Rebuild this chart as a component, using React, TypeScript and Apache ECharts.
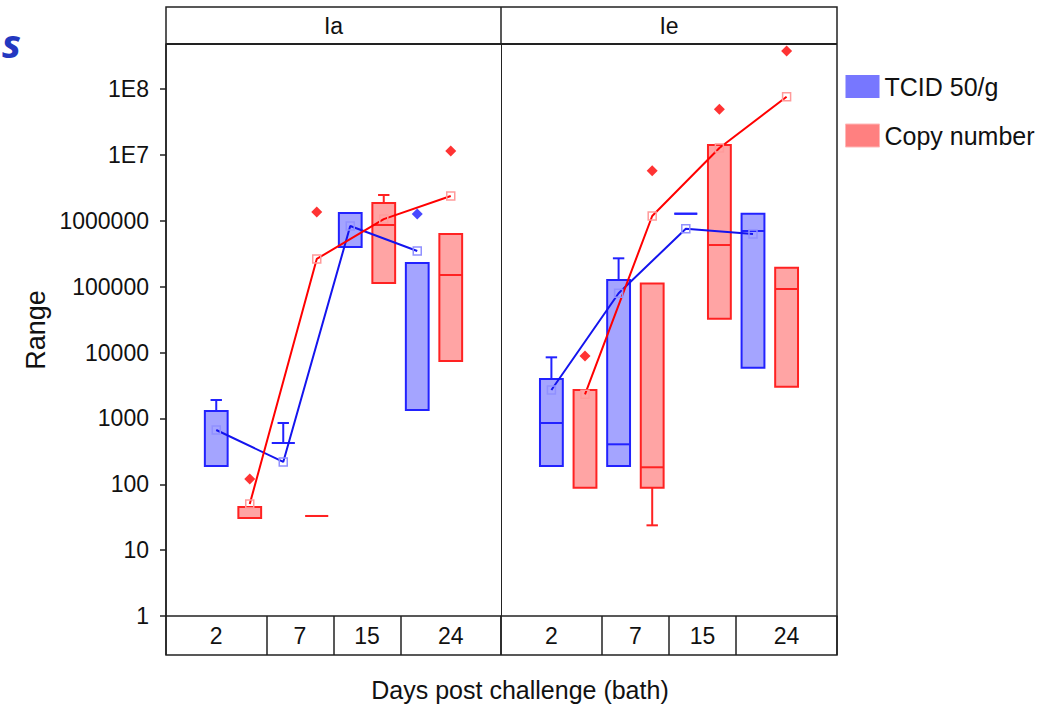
import React, { useEffect, useRef } from "react";
import * as echarts from "echarts";

// ---------- data ----------
const panels = ["Ia", "Ie"];
const days = ["2", "7", "15", "24"];
const groupNames = ["TCID 50/g", "Copy number"];
const yTickLabels = ["1", "10", "100", "1000", "10000", "100000", "1000000", "1E7", "1E8"];

// Ia – TCID 50/g
const iaTcidQ1 = [189, 423, 400000, 1340];
const iaTcidMedian = [null, 423, null, null];
const iaTcidQ3 = [1294, 423, 1310000, 228000];
const iaTcidLow = [null, null, null, null];
const iaTcidHigh = [1900, 851, null, null];
const iaTcidMean = [666, 218, 832000, 347000];
const iaTcidOutlier = [null, null, null, 1270000];

// Ia – Copy number
const iaCopyQ1 = [30.7, 33, 114000, 7430];
const iaCopyMedian = [null, 33, 862000, 150000];
const iaCopyQ3 = [45.1, 33, 1860000, 629000];
const iaCopyLow = [null, null, null, null];
const iaCopyHigh = [null, null, 2460000, null];
const iaCopyMean = [50.1, 263000, 1060000, 2380000];
const iaCopyOutlier = [120, 1360000, null, 11500000];

// Ie – TCID 50/g
const ieTcidQ1 = [189, 189, 1280000, 5880];
const ieTcidMedian = [851, 404, 1280000, 699000];
const ieTcidQ3 = [3960, 126000, 1280000, 1280000];
const ieTcidLow = [null, null, null, null];
const ieTcidHigh = [8450, 269000, null, null];
const ieTcidMean = [2700, 79200, 757000, 629000];
const ieTcidOutlier = [null, null, null, null];

// Ie – Copy number
const ieCopyQ1 = [88.7, 88.7, 32600, 3030];
const ieCopyMedian = [null, 181, 428000, 92000];
const ieCopyQ3 = [2700, 112000, 14100000, 194000];
const ieCopyLow = [null, 23.8, null, null];
const ieCopyHigh = [null, null, null, null];
const ieCopyMean = [2320, 1180000, 12700000, 76400000];
const ieCopyOutlier = [8850, 5750000, 49200000, 378000000];

// ---------- layout / style ----------
const FONT = "Liberation Sans, Arial, sans-serif";
const PLOT_LEFT = 166;
const PLOT_MID = 501;
const PLOT_RIGHT = 837;
const HEAD_TOP = 7;
const PLOT_TOP = 44;
const PLOT_BOTTOM = 616;
const STRIP_BOTTOM = 655;
const PX_PER_DECADE = 65.875;
const Y_MAX_EXP = (PLOT_BOTTOM - PLOT_TOP) / PX_PER_DECADE;
const BOX_HALF = 0.34;

const STYLES = [
  { fill: "#a4a4ff", stroke: "#2222ff", line: "#1414ee", marker: "#9090ff", dot: "#1a1aff" },
  { fill: "#ffa4a4", stroke: "#ff2222", line: "#ff0000", marker: "#ff9a9a", dot: "#ff0000" },
];

const panelData = [
  [
    { q1: iaTcidQ1, med: iaTcidMedian, q3: iaTcidQ3, lo: iaTcidLow, hi: iaTcidHigh, mean: iaTcidMean, out: iaTcidOutlier },
    { q1: iaCopyQ1, med: iaCopyMedian, q3: iaCopyQ3, lo: iaCopyLow, hi: iaCopyHigh, mean: iaCopyMean, out: iaCopyOutlier },
  ],
  [
    { q1: ieTcidQ1, med: ieTcidMedian, q3: ieTcidQ3, lo: ieTcidLow, hi: ieTcidHigh, mean: ieTcidMean, out: ieTcidOutlier },
    { q1: ieCopyQ1, med: ieCopyMedian, q3: ieCopyQ3, lo: ieCopyLow, hi: ieCopyHigh, mean: ieCopyMean, out: ieCopyOutlier },
  ],
];

const slotOf = (dayIdx: number, groupIdx: number) => dayIdx * 2 + groupIdx;
const cellCenters = [0, 2.5, 4.5, 7];
const cellEdges = [-1.5, 1.5, 3.5, 5.5, 8.5];

function makeRenderItem(st: any) {
  return (params: any, api: any) => {
    const slot = api.value(0);
    const q1 = api.value(1);
    const med = api.value(2);
    const q3 = api.value(3);
    const lo = api.value(4);
    const hi = api.value(5);
    const tl = api.coord([slot - BOX_HALF, q3]);
    const br = api.coord([slot + BOX_HALF, q1]);
    const cx = api.coord([slot, q1])[0];
    const bw = br[0] - tl[0];
    const cap = bw * 0.25;
    const ls = { stroke: st.stroke, lineWidth: 2 };
    const children: any[] = [];
    if (!isNaN(hi)) {
      const yh = api.coord([slot, hi])[1];
      children.push({ type: "line", shape: { x1: cx, y1: tl[1], x2: cx, y2: yh }, style: ls });
      children.push({ type: "line", shape: { x1: cx - cap, y1: yh, x2: cx + cap, y2: yh }, style: ls });
    }
    if (!isNaN(lo)) {
      const yl = api.coord([slot, lo])[1];
      children.push({ type: "line", shape: { x1: cx, y1: br[1], x2: cx, y2: yl }, style: ls });
      children.push({ type: "line", shape: { x1: cx - cap, y1: yl, x2: cx + cap, y2: yl }, style: ls });
    }
    children.push({
      type: "rect",
      shape: { x: tl[0], y: tl[1], width: bw, height: br[1] - tl[1] },
      style: { fill: st.fill, stroke: st.stroke, lineWidth: 2 },
    });
    if (!isNaN(med)) {
      const ym = api.coord([slot, med])[1];
      children.push({ type: "line", shape: { x1: tl[0], y1: ym, x2: br[0], y2: ym }, style: ls });
    }
    return { type: "group", children };
  };
}

function buildOption() {
  const series: any[] = [];
  panels.forEach((_, p) => {
    groupNames.forEach((gName, g) => {
      const d = panelData[p][g];
      const st = STYLES[g];
      series.push({
        type: "custom",
        name: gName,
        xAxisIndex: p,
        yAxisIndex: p,
        renderItem: makeRenderItem(st),
        encode: { x: 0, y: [1, 2, 3, 4, 5] },
        data: days.map((_, i) => [slotOf(i, g), d.q1[i], d.med[i], d.q3[i], d.lo[i], d.hi[i]]),
        z: 2,
      });
      series.push({
        type: "line",
        name: gName + " mean",
        xAxisIndex: p,
        yAxisIndex: p,
        data: days.map((_, i) => [slotOf(i, g), d.mean[i]]),
        lineStyle: { color: st.line, width: 2 },
        symbol: "rect",
        symbolSize: 8,
        itemStyle: { color: "rgba(255,255,255,0)", borderColor: st.marker, borderWidth: 1.5 },
        z: 4,
      });
      const outs = days
        .map((_, i) => (d.out[i] == null ? null : [slotOf(i, g), d.out[i]]))
        .filter((v) => v !== null);
      series.push({
        type: "scatter",
        name: gName + " outlier",
        xAxisIndex: p,
        yAxisIndex: p,
        data: outs,
        symbol: "diamond",
        symbolSize: 11,
        itemStyle: { color: st.dot },
        z: 5,
      });
    });
  });

  const xAxisFor = (p: number) => ({
    type: "value",
    gridIndex: p,
    min: -1.5,
    max: 8.5,
    axisLine: { show: true, onZero: false, lineStyle: { color: "#222", width: 1.5 } },
    axisTick: { show: true, customValues: cellEdges, length: STRIP_BOTTOM - PLOT_BOTTOM, lineStyle: { color: "#222", width: 1.5 } },
    axisLabel: {
      show: true,
      customValues: cellCenters,
      formatter: (v: number) => {
        const idx = cellCenters.findIndex((c) => Math.abs(c - v) < 1e-6);
        return idx >= 0 ? days[idx] : "";
      },
      fontSize: 23,
      color: "#111",
      fontFamily: FONT,
      margin: 8,
    },
    splitLine: { show: false },
  });

  const yAxisFor = (p: number) => ({
    type: "log",
    logBase: 10,
    gridIndex: p,
    min: 1,
    max: Math.pow(10, Y_MAX_EXP),
    axisLine: { show: true, onZero: false, lineStyle: { color: "#222", width: p === 0 ? 1.5 : 1 } },
    axisTick: { show: false },
    axisLabel: { show: false },
    splitLine: { show: false },
    name: p === 0 ? "Range" : "",
    nameLocation: "middle",
    nameRotate: 90,
    nameGap: 117,
    nameTextStyle: { fontSize: 27, color: "#111", fontFamily: FONT },
  });

  return {
    animation: false,
    backgroundColor: "#fff",
    textStyle: { fontFamily: FONT },
    grid: [
      { left: PLOT_LEFT, top: PLOT_TOP, width: PLOT_MID - PLOT_LEFT, height: PLOT_BOTTOM - PLOT_TOP },
      { left: PLOT_MID, top: PLOT_TOP, width: PLOT_RIGHT - PLOT_MID, height: PLOT_BOTTOM - PLOT_TOP },
      { left: PLOT_LEFT, top: PLOT_BOTTOM - 8 * PX_PER_DECADE, width: 1, height: 8 * PX_PER_DECADE },
    ],
    xAxis: [xAxisFor(0), xAxisFor(1), { type: "value", gridIndex: 2, show: false, min: 0, max: 1 }],
    yAxis: [
      yAxisFor(0),
      yAxisFor(1),
      {
        type: "log",
        logBase: 10,
        gridIndex: 2,
        min: 1,
        max: 1e8,
        interval: 1,
        axisLine: { show: false, onZero: false },
        axisTick: { show: true, length: 6, lineStyle: { color: "#222", width: 1.5 } },
        axisLabel: {
          show: true,
          fontSize: 23,
          color: "#111",
          fontFamily: FONT,
          margin: 17,
          formatter: (v: number) => {
            const e = Math.round(Math.log10(v));
            return yTickLabels[e] ?? "";
          },
        },
        splitLine: { show: false },
      },
    ],
    legend: {
      orient: "vertical",
      left: 845,
      top: 74,
      padding: 0,
      itemWidth: 34,
      itemHeight: 23,
      itemGap: 24,
      selectedMode: false,
      textStyle: { fontSize: 25, color: "#111", fontFamily: FONT },
      data: [
        { name: groupNames[0], icon: "rect", itemStyle: { color: "#7777ff", borderWidth: 0 } },
        { name: groupNames[1], icon: "rect", itemStyle: { color: "#ff8080", borderColor: "#ffb8b8", borderWidth: 1 } },
      ],
    },
    graphic: [
      {
        type: "rect",
        z: 100,
        shape: { x: PLOT_LEFT, y: HEAD_TOP, width: PLOT_RIGHT - PLOT_LEFT, height: STRIP_BOTTOM - HEAD_TOP },
        style: { fill: "none", stroke: "#222", lineWidth: 1.5 },
      },
      {
        type: "line",
        z: 100,
        shape: { x1: PLOT_LEFT, y1: PLOT_TOP, x2: PLOT_RIGHT, y2: PLOT_TOP },
        style: { stroke: "#222", lineWidth: 2 },
      },
      {
        type: "line",
        z: 100,
        shape: { x1: PLOT_MID, y1: HEAD_TOP, x2: PLOT_MID, y2: PLOT_TOP },
        style: { stroke: "#222", lineWidth: 1.5 },
      },
      {
        type: "text",
        z: 100,
        x: (PLOT_LEFT + PLOT_MID) / 2,
        y: (HEAD_TOP + PLOT_TOP) / 2,
        style: { text: panels[0], fontSize: 23, fontFamily: FONT, fill: "#111", align: "center", verticalAlign: "middle" },
      },
      {
        type: "text",
        z: 100,
        x: (PLOT_MID + PLOT_RIGHT) / 2,
        y: (HEAD_TOP + PLOT_TOP) / 2,
        style: { text: panels[1], fontSize: 23, fontFamily: FONT, fill: "#111", align: "center", verticalAlign: "middle" },
      },
      {
        type: "text",
        z: 100,
        x: 520,
        y: 690,
        style: { text: "Days post challenge (bath)", fontSize: 25, fontFamily: FONT, fill: "#111", align: "center", verticalAlign: "middle" },
      },
      {
        type: "text",
        z: 100,
        x: 2,
        y: 42,
        style: {
          text: "s",
          fontSize: 40,
          fontWeight: "bold",
          fontStyle: "italic",
          fontFamily: "Open Sans, Noto Sans, sans-serif",
          fill: "#2338c0",
          align: "left",
          verticalAlign: "middle",
        },
      },
    ],
    series,
  };
}

export default function App() {
  const ref = useRef<HTMLDivElement>(null);
  useEffect(() => {
    document.body.style.margin = "0";
    if (!ref.current) return;
    const chart = echarts.init(ref.current, null, { renderer: "svg" });
    chart.setOption(buildOption() as any);
    return () => chart.dispose();
  }, []);
  return <div ref={ref} style={{ width: 1050, height: 707 }} />;
}
